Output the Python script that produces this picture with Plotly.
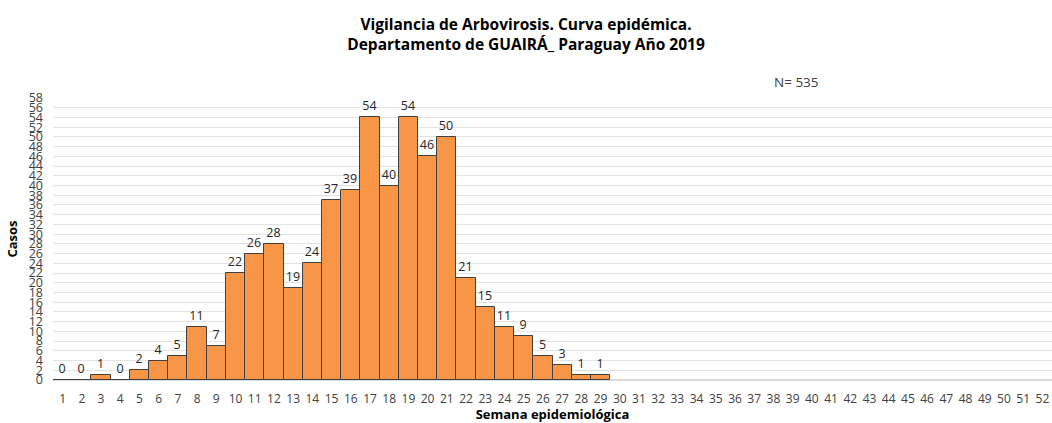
import plotly.graph_objects as go

semanas = list(range(1, 53))
casos = [0, 0, 1, 0, 2, 4, 5, 11, 7, 22, 26, 28, 19, 24, 37, 39, 54, 40, 54, 46, 50,
         21, 15, 11, 9, 5, 3, 1, 1]
y_ticks = list(range(0, 59, 2))

W, H = 1052, 423
L, R, T, B = 53, 0, 98, 43

fig = go.Figure()
fig.add_trace(go.Bar(
    x=semanas[:len(casos)], y=casos,
    text=[str(v) for v in casos], textposition="outside",
    textfont=dict(size=12.5, color="#262626"),
    marker=dict(color="#F79646", line=dict(color="#404040", width=1)),
    cliponaxis=False,
))
fig.update_layout(
    width=W, height=H,
    margin=dict(l=L, r=R, t=T, b=B, autoexpand=False),
    paper_bgcolor="white", plot_bgcolor="white",
    bargap=0,
    font=dict(family="Open Sans, Noto Sans, sans-serif", color="#404040"),
    title=dict(text="<b>Vigilancia de Arbovirosis. Curva epidémica.<br>Departamento de GUAIRÁ_ Paraguay Año 2019</b>",
               x=0.5, xanchor="center", y=1 - 30 / H, yanchor="middle",
               font=dict(size=15.5, color="#000000")),
    showlegend=False,
)
fig.update_xaxes(
    tickmode="array", tickvals=semanas, ticktext=[str(s) for s in semanas],
    range=[0.5, 52.5], showgrid=False, showline=False, ticks="", automargin=False,
    ticklabelstandoff=10,
    tickfont=dict(size=12, color="#404040"),
    title=dict(text="<b>Semana epidemiológica</b>", font=dict(size=13, color="#000000"), standoff=4),
)
fig.update_yaxes(
    range=[0, 58], tickmode="array", tickvals=y_ticks, ticktext=[str(t) for t in y_ticks],
    showgrid=True, gridcolor="#E3E3E3", gridwidth=1, zeroline=True, zerolinecolor="#D9D9D9",
    automargin=False, ticklabelstandoff=9,
    tickfont=dict(size=12.5, color="#404040"),
    title=dict(text="<b>Casos</b>", font=dict(size=13, color="#000000"), standoff=8),
)
fig.add_annotation(text="N= 535", xref="paper", yref="paper",
                   x=(796 - L) / (W - L - R), y=1 + (T - 82) / (H - T - B),
                   xanchor="center", yanchor="middle", showarrow=False,
                   font=dict(size=13.5, color="#404040"))
fig.write_html("out.html", config={"displayModeBar": False},
               post_script="document.body.style.margin='0';document.body.style.overflow='hidden';")
